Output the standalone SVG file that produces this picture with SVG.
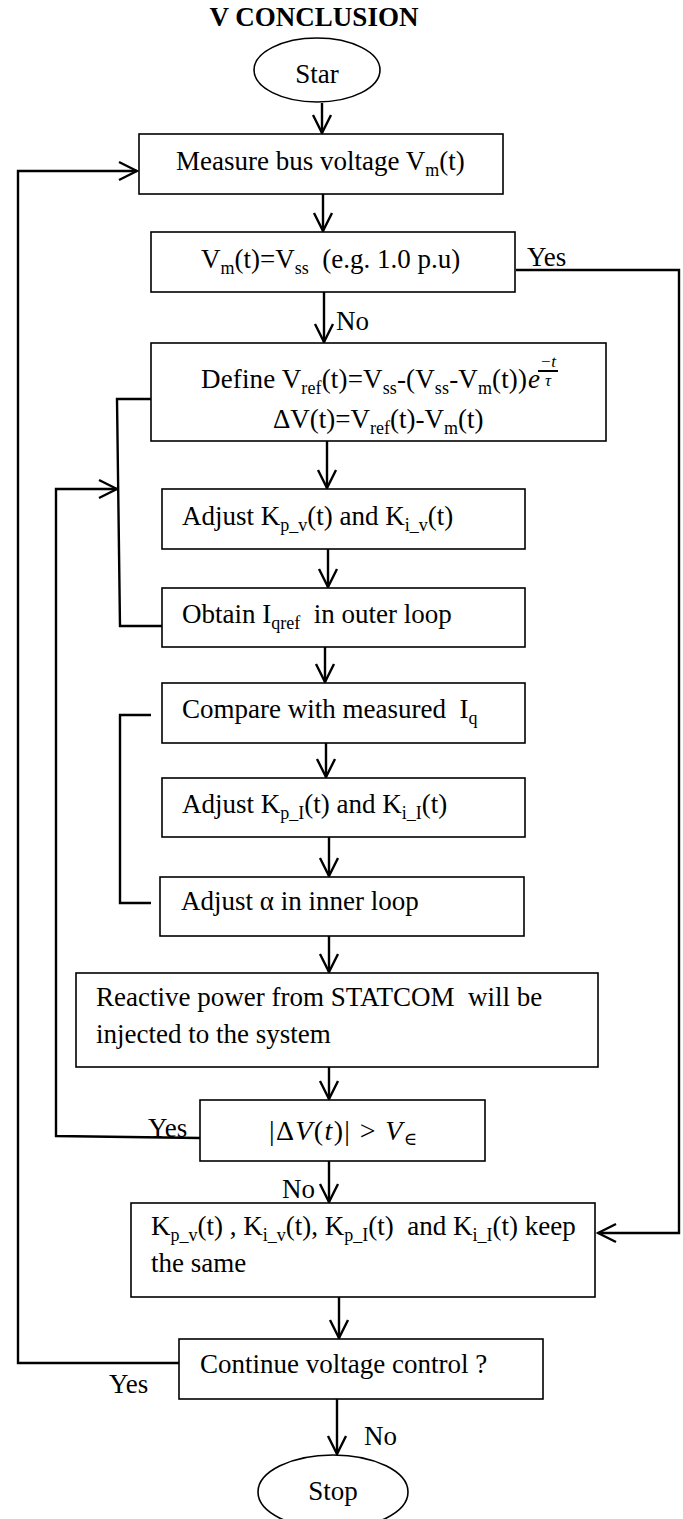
<svg xmlns="http://www.w3.org/2000/svg" width="683" height="1519" viewBox="0 0 683 1519">
  <style>
    .box { fill: #fff; stroke: #000; stroke-width: 1.6; }
    .wire { fill: none; stroke: #000; stroke-width: 2.4; }
    .t { font-family: "Liberation Serif", "Times New Roman", serif; font-size: 27px; fill: #000; }
    .title { font-family: "Liberation Serif", "Times New Roman", serif; font-size: 27px; font-weight: bold; fill: #000; }
    .sub { font-size: 18px; }
    .m { font-family: "Liberation Serif", "DejaVu Serif", serif; fill: #000; }
  </style>
  <defs>
    <marker id="open" markerUnits="userSpaceOnUse" viewBox="-2 -2 22 22" markerWidth="22" markerHeight="22" refX="18" refY="9" orient="auto">
      <path d="M0,0 L18,9 L0,18" fill="none" stroke="#000" stroke-width="2.4"/>
    </marker>
  </defs>

  <text class="title" x="314" y="26" text-anchor="middle">V CONCLUSION</text>

  <!-- connectors -->
  <g id="connectors">
    <path class="wire" d="M322,103 L322,133" marker-end="url(#open)"/>
    <path class="wire" d="M323,194 L323,231" marker-end="url(#open)"/>
    <path class="wire" d="M324,292 L324,342" marker-end="url(#open)"/>
    <path class="wire" d="M327,441 L327,488" marker-end="url(#open)"/>
    <path class="wire" d="M328,549 L328,587" marker-end="url(#open)"/>
    <path class="wire" d="M325,647 L325,682" marker-end="url(#open)"/>
    <path class="wire" d="M326,743 L326,777" marker-end="url(#open)"/>
    <path class="wire" d="M329,837 L329,876" marker-end="url(#open)"/>
    <path class="wire" d="M329,936 L329,972" marker-end="url(#open)"/>
    <path class="wire" d="M329,1067 L329,1099" marker-end="url(#open)"/>
    <path class="wire" d="M329,1161 L329,1202" marker-end="url(#open)"/>
    <path class="wire" d="M339,1297 L339,1338" marker-end="url(#open)"/>
    <path class="wire" d="M337,1399 L337,1454" marker-end="url(#open)"/>
    <!-- steady-state branch -->
    <path class="wire" d="M516,270 L679,270 L679,1233 L598,1233" marker-end="url(#open)"/>
    <!-- outer loop bracket -->
    <path class="wire" d="M151,399 L117,399 L120,626 L162,626"/>
    <!-- inner loop bracket -->
    <path class="wire" d="M151,715 L120,715 L120,903 L151,903"/>
    <!-- error still above tolerance -->
    <path class="wire" d="M200,1138 L56,1136 L56,489 L117,489" marker-end="url(#open)"/>
    <!-- repeat control -->
    <path class="wire" d="M179,1363 L18,1363 L18,171 L137,171" marker-end="url(#open)"/>
  </g>

  <g id="start">
    <ellipse class="box" cx="317" cy="70" rx="63" ry="32"/>
    <text class="t" x="317" y="83" text-anchor="middle">Star</text>
  </g>

  <g id="measure">
    <rect class="box" x="139" y="134" width="364" height="60"/>
    <text class="t" x="176" y="170">Measure bus voltage V<tspan class="sub" dy="6">m</tspan><tspan dy="-6">(t)</tspan></text>
  </g>

  <g id="check-steady">
    <rect class="box" x="151" y="232" width="364" height="60"/>
    <text class="t" x="201" y="268" xml:space="preserve">V<tspan class="sub" dy="6">m</tspan><tspan dy="-6">(t)=V</tspan><tspan class="sub" dy="6">ss</tspan><tspan dy="-6">  (e.g. 1.0 p.u)</tspan></text>
    <text class="t" x="527" y="266">Yes</text>
    <text class="t" x="336" y="330">No</text>
  </g>

  <g id="define">
    <rect class="box" x="151" y="343" width="455" height="98"/>
    <text class="t" x="201" y="388" textLength="326" lengthAdjust="spacing">Define V<tspan class="sub" dy="6">ref</tspan><tspan dy="-6">(t)=V</tspan><tspan class="sub" dy="6">ss</tspan><tspan dy="-6">-(V</tspan><tspan class="sub" dy="6">ss</tspan><tspan dy="-6">-V</tspan><tspan class="sub" dy="6">m</tspan><tspan dy="-6">(t))</tspan></text>
    <text class="m" x="528" y="388" font-size="27" font-style="italic">e</text>
    <text class="m" x="548" y="367" font-size="17" font-style="italic" text-anchor="middle">−t</text>
    <line x1="538" y1="371" x2="558" y2="371" stroke="#000" stroke-width="2"/>
    <text class="m" x="548" y="386" font-size="17" font-style="italic" text-anchor="middle">τ</text>
    <text class="t" x="273" y="428">ΔV(t)=V<tspan class="sub" dy="6">ref</tspan><tspan dy="-6">(t)-V</tspan><tspan class="sub" dy="6">m</tspan><tspan dy="-6">(t)</tspan></text>
  </g>

  <g id="adjust-v-gains">
    <rect class="box" x="162" y="489" width="363" height="60"/>
    <text class="t" x="182" y="525">Adjust K<tspan class="sub" dy="6">p_v</tspan><tspan dy="-6">(t) and K</tspan><tspan class="sub" dy="6">i_v</tspan><tspan dy="-6">(t)</tspan></text>
  </g>

  <g id="obtain-iqref">
    <rect class="box" x="162" y="588" width="363" height="59"/>
    <text class="t" x="182" y="623" xml:space="preserve">Obtain I<tspan class="sub" dy="6">qref</tspan><tspan dy="-6">  in outer loop</tspan></text>
  </g>

  <g id="compare">
    <rect class="box" x="162" y="683" width="363" height="60"/>
    <text class="t" x="182" y="718" xml:space="preserve">Compare with measured  I<tspan class="sub" dy="6">q</tspan></text>
  </g>

  <g id="adjust-i-gains">
    <rect class="box" x="162" y="778" width="363" height="59"/>
    <text class="t" x="182" y="813">Adjust K<tspan class="sub" dy="6">p_I</tspan><tspan dy="-6">(t) and K</tspan><tspan class="sub" dy="6">i_I</tspan><tspan dy="-6">(t)</tspan></text>
  </g>

  <g id="adjust-alpha">
    <rect class="box" x="160" y="877" width="364" height="59"/>
    <text class="t" x="181" y="910">Adjust α in inner loop</text>
  </g>

  <g id="inject">
    <rect class="box" x="76" y="973" width="522" height="94"/>
    <text class="t" x="96" y="1006" xml:space="preserve">Reactive power from STATCOM  will be</text>
    <text class="t" x="96" y="1043">injected to the system</text>
  </g>

  <g id="tolerance">
    <rect class="box" x="200" y="1100" width="285" height="61"/>
    <text class="m" x="269" y="1140" font-size="28" textLength="148" lengthAdjust="spacing">|Δ<tspan font-style="italic">V</tspan>(<tspan font-style="italic">t</tspan>)| &gt; <tspan font-style="italic">V</tspan><tspan font-size="18" dy="5">∈</tspan></text>
    <text class="t" x="148" y="1137">Yes</text>
    <text class="t" x="282" y="1198">No</text>
  </g>

  <g id="hold-gains">
    <rect class="box" x="131" y="1203" width="464" height="94"/>
    <text class="t" x="151" y="1235" xml:space="preserve">K<tspan class="sub" dy="6">p_v</tspan><tspan dy="-6">(t) , K</tspan><tspan class="sub" dy="6">i_v</tspan><tspan dy="-6">(t), K</tspan><tspan class="sub" dy="6">p_I</tspan><tspan dy="-6">(t)  and K</tspan><tspan class="sub" dy="6">i_I</tspan><tspan dy="-6">(t) keep</tspan></text>
    <text class="t" x="151" y="1272">the same</text>
  </g>

  <g id="continue">
    <rect class="box" x="179" y="1339" width="364" height="60"/>
    <text class="t" x="200" y="1373">Continue voltage control ?</text>
    <text class="t" x="109" y="1393">Yes</text>
    <text class="t" x="364" y="1445">No</text>
  </g>

  <g id="stop">
    <ellipse class="box" cx="333" cy="1492" rx="75" ry="37"/>
    <text class="t" x="333" y="1500" text-anchor="middle">Stop</text>
  </g>
</svg>
